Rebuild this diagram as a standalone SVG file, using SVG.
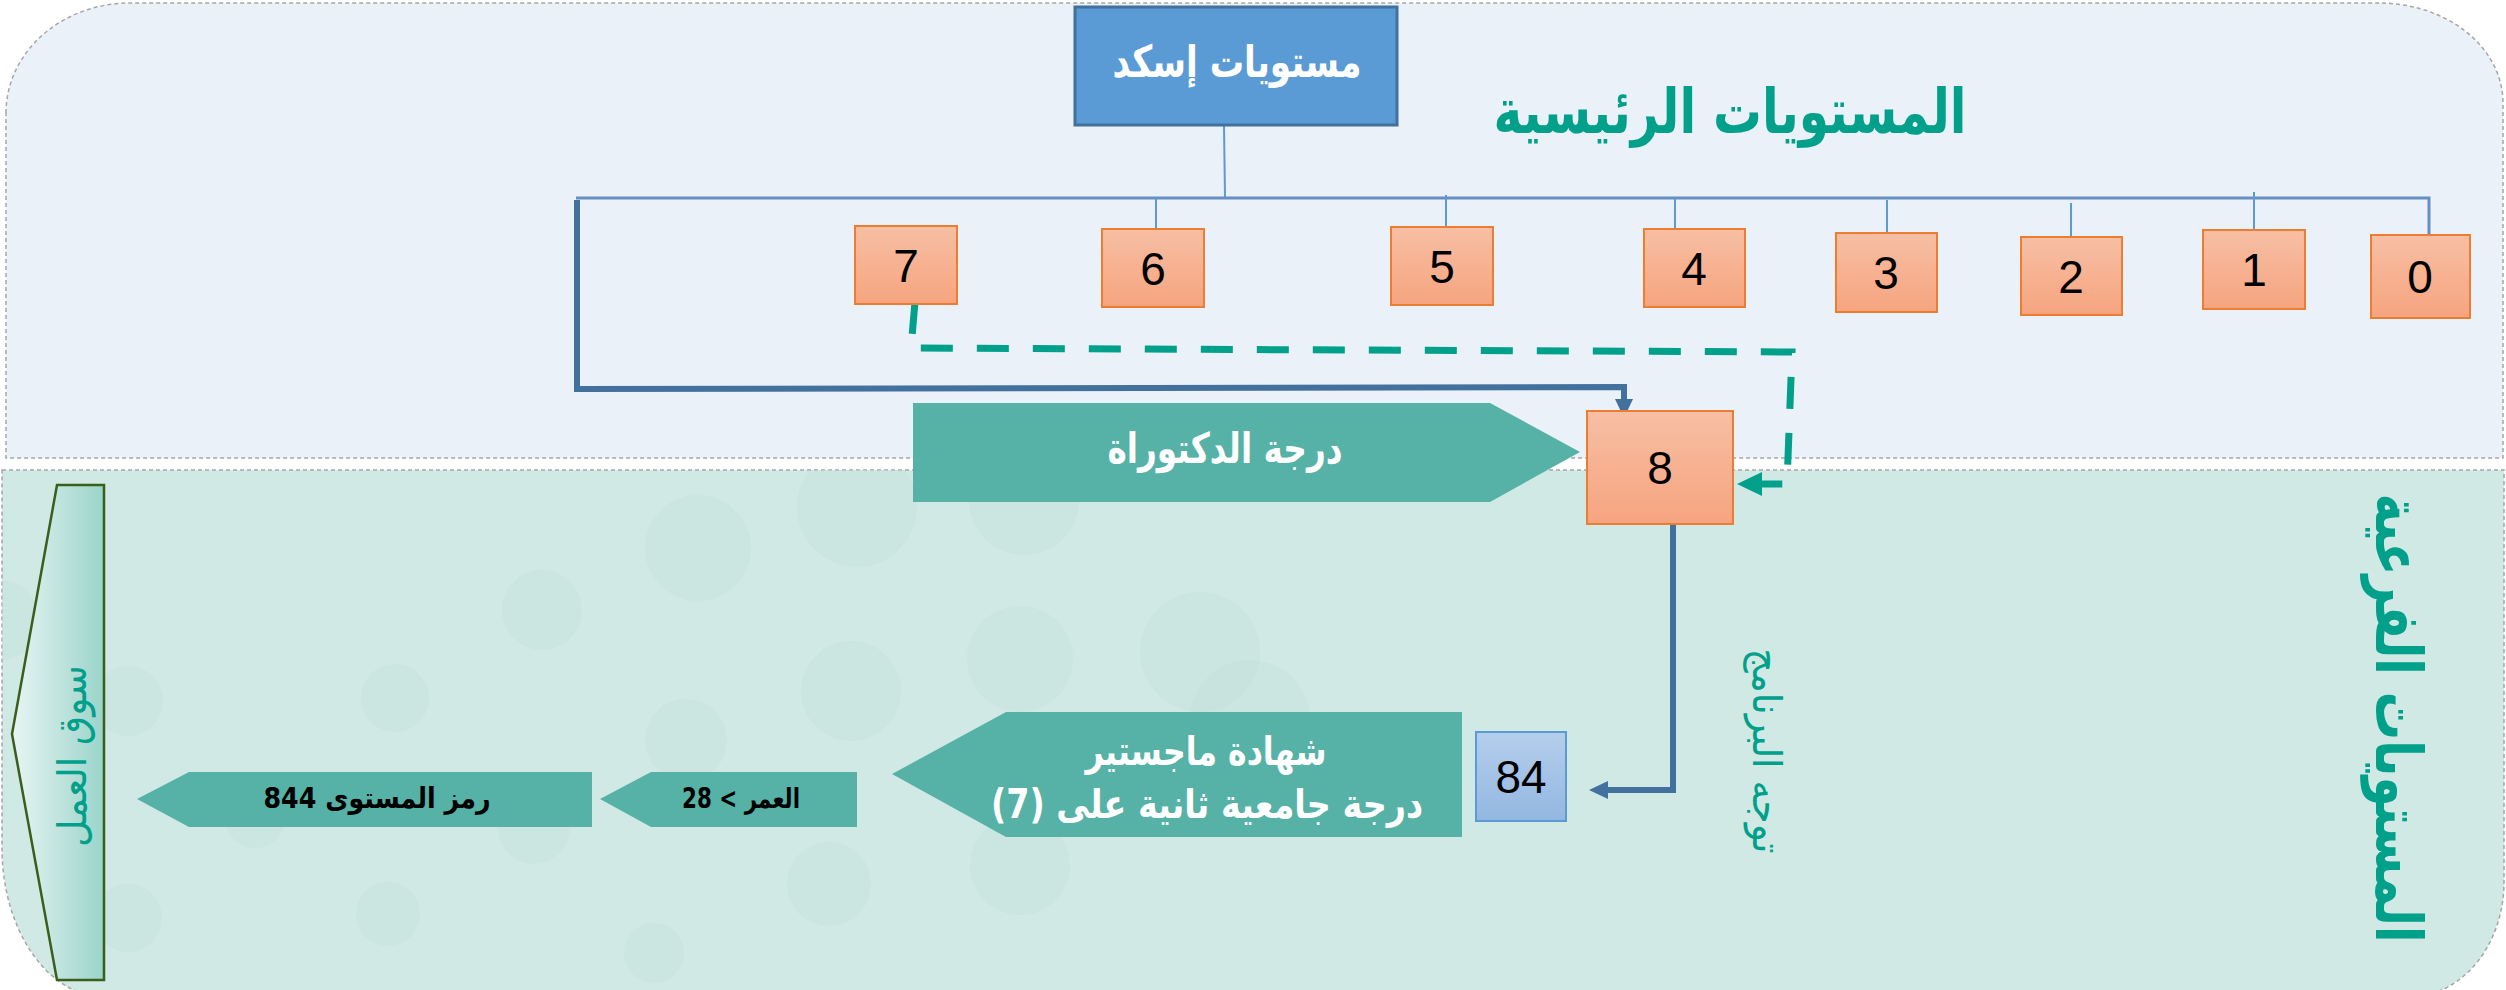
<svg xmlns="http://www.w3.org/2000/svg" width="2506" height="990" viewBox="0 0 2506 990">
<defs>
<style>
.ar{font-family:"DejaVu Sans","Noto Sans",sans-serif;}
.num{font-family:"Liberation Sans",Arial,sans-serif;font-size:46px;fill:#000;text-anchor:middle;}
.lvl{stroke:#ED7D31;stroke-width:2;fill:url(#gOr);}
.drop{stroke:#5B9BD5;stroke-width:2;fill:none;}
.tree{stroke:#6690C2;stroke-width:3;fill:none;}
.elbow{stroke:#41719C;stroke-width:6;fill:none;}
.pent{fill:#56B2A6;}
.bk{fill:#C3DFDA;opacity:0.4;}
.wt{fill:#fff;font-weight:bold;text-anchor:middle;}
.bl{fill:#000;font-weight:bold;text-anchor:middle;}
.tl{fill:#00A08A;text-anchor:middle;}
</style>
<linearGradient id="gOr" x1="0" y1="0" x2="0" y2="1">
<stop offset="0" stop-color="#F7BFA4"/><stop offset="1" stop-color="#F6A47F"/>
</linearGradient>
<linearGradient id="gBl" x1="0" y1="0" x2="0" y2="1">
<stop offset="0" stop-color="#B5CEEC"/><stop offset="1" stop-color="#93B7E1"/>
</linearGradient>
<linearGradient id="gMk" x1="0" y1="0" x2="1" y2="0">
<stop offset="0" stop-color="#E8F5F3"/><stop offset="1" stop-color="#9AD4CA"/>
</linearGradient>
<clipPath id="cpB"><path d="M2,470 L2504,470 L2504,882 A95,115 0 0 1 2409,997 L105,997 A103,149 0 0 1 2,848 Z"/></clipPath>
<marker id="mBlue" markerUnits="userSpaceOnUse" markerWidth="20" markerHeight="20" refX="0" refY="9" orient="auto" viewBox="0 0 20 18">
<path d="M0,0 L19,9 L0,18 Z" fill="#41719C"/>
</marker>
<marker id="mTeal" markerUnits="userSpaceOnUse" markerWidth="26" markerHeight="24" refX="0" refY="12" orient="auto" viewBox="0 0 26 24">
<path d="M0,0 L25,12 L0,24 Z" fill="#00A08A"/>
</marker>
</defs>

<g id="background">
<rect x="0" y="0" width="2506" height="990" fill="#fff"/>
<path d="M6,113 A124,110 0 0 1 130,3 L2380,3 A124,100 0 0 1 2503,103 L2503,458 L6,458 Z" fill="#EAF1F8" stroke="#A6A6A6" stroke-width="1.5" stroke-dasharray="4 3"/>
<path d="M2,470 L2504,470 L2504,882 A95,115 0 0 1 2409,997 L105,997 A103,149 0 0 1 2,848 Z" fill="#D1E9E5" stroke="#A6A6A6" stroke-width="1.5" stroke-dasharray="4 3"/>
<g clip-path="url(#cpB)">
<circle class="bk" cx="698" cy="548" r="53"/>
<circle class="bk" cx="542" cy="610" r="40"/>
<circle class="bk" cx="395" cy="698" r="34"/>
<circle class="bk" cx="851" cy="691" r="50"/>
<circle class="bk" cx="1020" cy="659" r="53"/>
<circle class="bk" cx="1024" cy="500" r="55"/>
<circle class="bk" cx="857" cy="507" r="60"/>
<circle class="bk" cx="1200" cy="652" r="60"/>
<circle class="bk" cx="686" cy="740" r="41"/>
<circle class="bk" cx="128" cy="701" r="35"/>
<circle class="bk" cx="829" cy="884" r="42"/>
<circle class="bk" cx="534" cy="828" r="36"/>
<circle class="bk" cx="255" cy="818" r="30"/>
<circle class="bk" cx="388" cy="914" r="32"/>
<circle class="bk" cx="128" cy="918" r="34"/>
<circle class="bk" cx="654" cy="953" r="30"/>
<circle class="bk" cx="1020" cy="865" r="50"/>
<circle class="bk" cx="0" cy="620" r="40"/>
<circle class="bk" cx="1250" cy="720" r="60"/>
</g>
</g>

<text class="ar tl" x="1730" y="133" font-size="62" font-weight="bold" direction="rtl" textLength="473" lengthAdjust="spacingAndGlyphs">المستويات الرئيسية</text>
<text class="ar tl" transform="translate(2376,718) rotate(90)" font-size="64" font-weight="bold" direction="rtl" textLength="449" lengthAdjust="spacingAndGlyphs">المستويات الفرعية</text>
<text class="ar tl" transform="translate(1753,751) rotate(90)" font-size="40" direction="rtl" textLength="205" lengthAdjust="spacingAndGlyphs">توجه البرنامج</text>

<g id="connectors">
<path class="tree" d="M576,198 L2429,198 L2429,235"/>
<path class="drop" d="M1224,125 L1225,197"/>
<path class="drop" d="M1156,199 L1156,229"/>
<path class="drop" d="M1446,195 L1446,227"/>
<path class="drop" d="M1675,198 L1675,229"/>
<path class="drop" d="M1887,200 L1887,233"/>
<path class="drop" d="M2071,203 L2071,237"/>
<path class="drop" d="M2254,192 L2254,230"/>
<path class="elbow" d="M577,200 L577,389 L1624,387 L1624,399" marker-end="url(#mBlue)"/>
<path class="elbow" d="M1673,524 L1673,790 L1608,790" marker-end="url(#mBlue)"/>
<path d="M915,302 L911,348 L1792,352 L1787,484 L1762,484" fill="none" stroke="#00A08A" stroke-width="7" stroke-dasharray="32 24" marker-end="url(#mTeal)"/>
</g>

<g id="node-isced">
<rect x="1075" y="7" width="322" height="118" fill="#5B9BD5" stroke="#41719C" stroke-width="3"/>
<text class="ar wt" x="1237" y="77" font-size="44" direction="rtl" textLength="249" lengthAdjust="spacingAndGlyphs">مستويات إسكد</text>
</g>
<g id="node-7"><rect class="lvl" x="855" y="226" width="102" height="78"/><text class="num" x="906" y="282">7</text></g>
<g id="node-6"><rect class="lvl" x="1102" y="229" width="102" height="78"/><text class="num" x="1153" y="285">6</text></g>
<g id="node-5"><rect class="lvl" x="1391" y="227" width="102" height="78"/><text class="num" x="1442" y="283">5</text></g>
<g id="node-4"><rect class="lvl" x="1644" y="229" width="101" height="78"/><text class="num" x="1694" y="285">4</text></g>
<g id="node-3"><rect class="lvl" x="1836" y="233" width="101" height="79"/><text class="num" x="1886" y="289">3</text></g>
<g id="node-2"><rect class="lvl" x="2021" y="237" width="101" height="78"/><text class="num" x="2071" y="293">2</text></g>
<g id="node-1"><rect class="lvl" x="2203" y="230" width="102" height="79"/><text class="num" x="2254" y="286">1</text></g>
<g id="node-0"><rect class="lvl" x="2371" y="235" width="99" height="83"/><text class="num" x="2420" y="293">0</text></g>

<g id="node-doctorate">
<path class="pent" d="M913,403 L1490,403 L1580,452 L1490,502 L913,502 Z"/>
<text class="ar wt" x="1225" y="463" font-size="42" direction="rtl" textLength="235" lengthAdjust="spacingAndGlyphs">درجة الدكتوراة</text>
</g>
<g id="node-8"><rect class="lvl" x="1587" y="411" width="146" height="113"/><text class="num" x="1660" y="484">8</text></g>

<g id="node-84"><rect x="1476" y="732" width="90" height="89" fill="url(#gBl)" stroke="#5B9BD5" stroke-width="2"/><text class="num" x="1521" y="793">84</text></g>

<g id="node-master">
<path class="pent" d="M1006,712 L1462,712 L1462,837 L1006,837 L892,774 Z"/>
<text class="ar wt" x="1206" y="765" font-size="40" direction="rtl" textLength="241" lengthAdjust="spacingAndGlyphs">شهادة ماجستير</text>
<text class="ar wt" x="1207" y="818" font-size="40" direction="rtl" textLength="432" lengthAdjust="spacingAndGlyphs">درجة جامعية ثانية على (7)</text>
</g>

<g id="node-age">
<path class="pent" d="M651,772 L857,772 L857,827 L651,827 L600,799 Z"/>
<text class="ar bl" x="741" y="808" font-size="28" direction="rtl" textLength="118" lengthAdjust="spacingAndGlyphs">العمر &gt; 28</text>
</g>
<g id="node-844">
<path class="pent" d="M189,772 L592,772 L592,827 L189,827 L137,799 Z"/>
<text class="ar bl" x="377" y="808" font-size="29" direction="rtl" textLength="227" lengthAdjust="spacingAndGlyphs">رمز المستوى 844</text>
</g>

<g id="node-market">
<path d="M57,485 L104,485 L104,980 L57,980 L12,734 Z" fill="url(#gMk)" stroke="#3A5F1C" stroke-width="2.5"/>
<text class="ar tl" transform="translate(86,756) rotate(-90)" font-size="40" direction="rtl" textLength="182" lengthAdjust="spacingAndGlyphs">سوق العمل</text>
</g>
</svg>
